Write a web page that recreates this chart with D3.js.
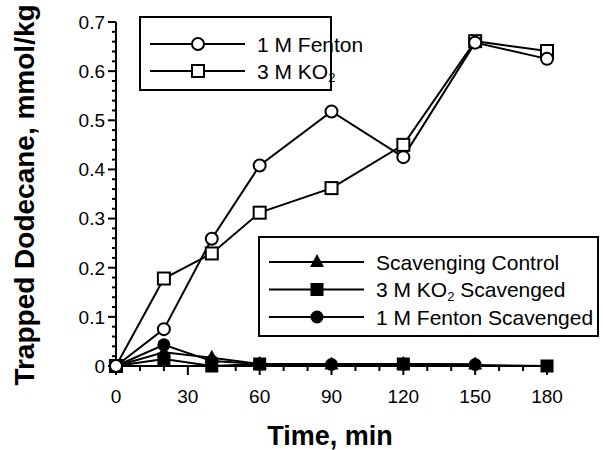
<!DOCTYPE html>
<html>
<head>
<meta charset="utf-8">
<script src="https://cdn.jsdelivr.net/npm/d3@7"></script>
<style>
  body { margin: 0; background: #fff; }
  text { font-family: "Liberation Sans", Arial, sans-serif; }
</style>
</head>
<body>
<div id="chart"></div>
<script>
// time points (min) and trapped dodecane (mmol/kg)
const timesMain = [0, 20, 40, 60, 90, 120, 150, 180];
const fenton = [0, 0.075, 0.259, 0.408, 0.518, 0.425, 0.658, 0.625];
const ko2 = [0, 0.178, 0.229, 0.312, 0.362, 0.45, 0.661, 0.641];

const timesScav = [0, 20, 40, 60, 90, 120, 150];
const scavControl = [0, 0.028, 0.017, 0.004, 0.003, 0.004, 0.003];
const fentonScav = [0, 0.043, 0.01, 0.004, 0.003, 0.004, 0.003];

const timesKo2Scav = [0, 20, 40, 60, 120, 180];
const ko2Scav = [0, 0.014, 0, 0.004, 0.004, 0];

const xTicks = [0, 30, 60, 90, 120, 150, 180];
const yTicks = [0, 0.1, 0.2, 0.3, 0.4, 0.5, 0.6, 0.7];

const W = 603, H = 450;
const svg = d3.select("#chart").append("svg")
  .attr("width", W).attr("height", H);

const x = d3.scaleLinear().domain([0, 180]).range([116, 547]);
const y = d3.scaleLinear().domain([0, 0.7]).range([366, 22]);

// axes
const yAxis = svg.append("g").attr("transform", `translate(${x(0)},0)`);
yAxis.append("line")
  .attr("x1", 0).attr("x2", 0).attr("y1", y(0)).attr("y2", y(0.7))
  .attr("stroke", "#000").attr("stroke-width", 2);
yAxis.selectAll(".minor")
  .data(d3.range(0, 36).map(i => i * 0.02).filter(v => Math.round(v * 50) % 5 !== 0))
  .join("line")
  .attr("x1", -4).attr("x2", 0)
  .attr("y1", d => y(d)).attr("y2", d => y(d))
  .attr("stroke", "#000").attr("stroke-width", 2);
yAxis.selectAll(".major").data(yTicks).join("line")
  .attr("x1", -8).attr("x2", 0)
  .attr("y1", d => y(d)).attr("y2", d => y(d))
  .attr("stroke", "#000").attr("stroke-width", 2);
yAxis.selectAll(".lbl").data(yTicks).join("text")
  .attr("x", -11).attr("y", d => y(d)).attr("dy", "0.36em")
  .attr("text-anchor", "end").attr("font-size", 19)
  .text(d => d === 0 ? "0" : d3.format(".1f")(d));

const xAxis = svg.append("g").attr("transform", `translate(0,${y(0)})`);
xAxis.append("line")
  .attr("x1", x(0)).attr("x2", x(180)).attr("y1", 0).attr("y2", 0)
  .attr("stroke", "#000").attr("stroke-width", 2);
xAxis.selectAll(".minor").data(d3.range(0, 181, 10).filter(v => v % 30 !== 0)).join("line")
  .attr("x1", d => x(d)).attr("x2", d => x(d)).attr("y1", 0).attr("y2", 5)
  .attr("stroke", "#000").attr("stroke-width", 2);
xAxis.selectAll(".major").data(xTicks).join("line")
  .attr("x1", d => x(d)).attr("x2", d => x(d)).attr("y1", 0).attr("y2", 9)
  .attr("stroke", "#000").attr("stroke-width", 2);
xAxis.selectAll(".lbl").data(xTicks).join("text")
  .attr("x", d => x(d)).attr("y", 37)
  .attr("text-anchor", "middle").attr("font-size", 19)
  .text(d => d);

svg.append("text")
  .attr("x", 330).attr("y", 445)
  .attr("text-anchor", "middle").attr("font-size", 27).attr("font-weight", "bold")
  .text("Time, min");
svg.append("text")
  .attr("transform", "translate(34,195) rotate(-90)")
  .attr("text-anchor", "middle").attr("font-size", 28).attr("font-weight", "bold")
  .text("Trapped Dodecane, mmol/kg");

// markers
function marker(g, type, cx, cy) {
  if (type === "openCircle") {
    g.append("circle").attr("cx", cx).attr("cy", cy).attr("r", 6)
      .attr("fill", "#fff").attr("stroke", "#000").attr("stroke-width", 2);
  } else if (type === "openSquare") {
    g.append("rect").attr("x", cx - 6).attr("y", cy - 6).attr("width", 12).attr("height", 12)
      .attr("fill", "#fff").attr("stroke", "#000").attr("stroke-width", 2);
  } else if (type === "square") {
    g.append("rect").attr("x", cx - 6.5).attr("y", cy - 6.5).attr("width", 13).attr("height", 13)
      .attr("fill", "#000");
  } else if (type === "circle") {
    g.append("circle").attr("cx", cx).attr("cy", cy).attr("r", 6.5).attr("fill", "#000");
  } else if (type === "triangle") {
    g.append("path")
      .attr("d", `M${cx},${cy - 8}L${cx + 7},${cy + 5}L${cx - 7},${cy + 5}Z`)
      .attr("fill", "#000");
  }
}

const series = [
  { t: timesKo2Scav, v: ko2Scav, m: "square" },
  { t: timesScav, v: scavControl, m: "triangle" },
  { t: timesScav, v: fentonScav, m: "circle" },
  { t: timesMain, v: ko2, m: "openSquare" },
  { t: timesMain, v: fenton, m: "openCircle" }
];

const line = d3.line().x(d => x(d[0])).y(d => y(d[1]));
const plot = svg.append("g");
series.forEach(s => {
  const pts = s.t.map((t, i) => [t, s.v[i]]);
  plot.append("path").attr("d", line(pts))
    .attr("fill", "none").attr("stroke", "#000").attr("stroke-width", 2);
});
series.forEach(s => {
  const g = plot.append("g");
  s.t.forEach((t, i) => marker(g, s.m, x(t), y(s.v[i])));
});

// legends
function legend(box, rows) {
  const g = svg.append("g");
  g.append("rect").attr("x", box.x).attr("y", box.y).attr("width", box.w).attr("height", box.h)
    .attr("fill", "#fff").attr("stroke", "#000").attr("stroke-width", 2);
  rows.forEach((r, i) => {
    const cy = box.y + box.first + i * box.step;
    g.append("line").attr("x1", box.x + 10).attr("x2", box.x + 105)
      .attr("y1", cy).attr("y2", cy).attr("stroke", "#000").attr("stroke-width", 2);
    marker(g, r.m, box.x + 58, cy);
    const t = g.append("text").attr("x", box.x + 117).attr("y", cy).attr("dy", "0.36em")
      .attr("font-size", 21);
    r.label.forEach(p => {
      if (p.sub) t.append("tspan").attr("font-size", 13).attr("dy", "0.3em").text(p.s);
      else if (p.after) t.append("tspan").attr("dy", "-0.19em").text(p.s);
      else t.append("tspan").text(p.s);
    });
  });
}

legend({ x: 140, y: 17, w: 191, h: 73, first: 27, step: 27 }, [
  { m: "openCircle", label: [{ s: "1 M Fenton" }] },
  { m: "openSquare", label: [{ s: "3 M KO" }, { s: "2", sub: true }] }
]);
legend({ x: 259, y: 237, w: 339, h: 99, first: 25, step: 27.5 }, [
  { m: "triangle", label: [{ s: "Scavenging Control" }] },
  { m: "square", label: [{ s: "3 M KO" }, { s: "2", sub: true }, { s: " Scavenged", after: true }] },
  { m: "circle", label: [{ s: "1 M Fenton Scavenged" }] }
]);
</script>
</body>
</html>
